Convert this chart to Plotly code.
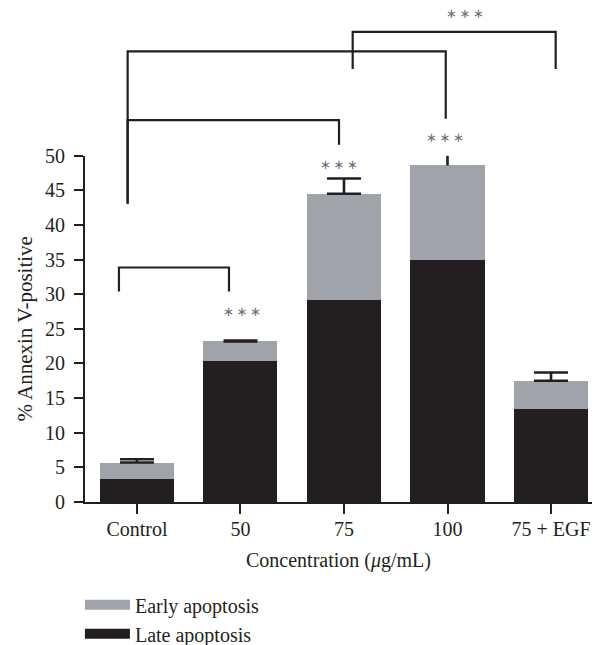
import plotly.graph_objects as go

# ---- data ----
categories = ["Control", "50", "75", "100", "75 + EGF"]
late_apoptosis = [3.3, 20.4, 29.2, 35.0, 13.4]
early_apoptosis = [2.4, 2.8, 15.3, 13.6, 4.1]
error_sd = [0.47, 0.1, 2.2, 1.45, 1.2]
cap_shown = [True, True, True, False, True]

# significance brackets: (x_left, x_right, y_top, y_bottom_left, y_bottom_right), in axis units
brackets = [
    (-0.174, 0.889, 33.86, 30.39, 30.39),
    (-0.09, 1.952, 55.13, 43.06, 51.59),
    (-0.09, 2.983, 65.07, 43.06, 55.35),
    (2.084, 4.045, 67.87, 62.53, 62.53),
]
star_x = [1.01, 1.95, 2.98, 3.17]
star_y = [27.5, 48.8, 52.6, 70.5]
star_text = "∗\u2009∗\u2009∗"

FONT = "Liberation Serif"
BLACK = "#231f20"
GREY = "#a0a3aa"
STAR = "#6d6e71"

x_pos = list(range(len(categories)))
totals = [a + b for a, b in zip(late_apoptosis, early_apoptosis)]

fig = go.Figure()
fig.add_trace(go.Bar(x=x_pos, y=late_apoptosis, width=0.715, marker=dict(color=BLACK, line=dict(width=0)),
                     name="Late apoptosis", showlegend=False, hoverinfo="skip"))
fig.add_trace(go.Bar(x=x_pos, y=early_apoptosis, width=0.715, marker=dict(color=GREY, line=dict(width=0)),
                     name="Early apoptosis", showlegend=False, hoverinfo="skip"))

for flag, cap in ((True, 17), (False, 0)):
    xs = [x for x, c in zip(x_pos, cap_shown) if c == flag]
    ys = [t for t, c in zip(totals, cap_shown) if c == flag]
    es = [e for e, c in zip(error_sd, cap_shown) if c == flag]
    fig.add_trace(go.Scatter(x=xs, y=ys, mode="markers", marker=dict(size=1, opacity=0),
                             error_y=dict(type="data", array=es, symmetric=False, arrayminus=[0] * len(es),
                                          color=BLACK, thickness=2.6, width=cap),
                             showlegend=False, hoverinfo="skip"))

for xl, xr, yt, ybl, ybr in brackets:
    fig.add_trace(go.Scatter(x=[xl, xl, xr, xr], y=[ybl, yt, yt, ybr], mode="lines",
                             line=dict(color=BLACK, width=2.2), yaxis="y2",
                             showlegend=False, hoverinfo="skip"))

for sx, sy in zip(star_x, star_y):
    fig.add_annotation(x=sx, y=sy, xref="x", yref="y2", text=star_text, showarrow=False,
                       font=dict(family="DejaVu Sans", size=13, color=STAR), xanchor="center", yanchor="middle")

# legend entries
fig.add_trace(go.Scatter(x=[None], y=[None], mode="lines", line=dict(color=GREY, width=10),
                         name="Early apoptosis", legendgroup="e"))
fig.add_trace(go.Scatter(x=[None], y=[None], mode="lines", line=dict(color=BLACK, width=10),
                         name="Late apoptosis", legendgroup="l"))

fig.update_layout(
    width=597, height=645,
    margin=dict(l=85, r=5, t=0, b=143, autoexpand=False),
    paper_bgcolor="white", plot_bgcolor="rgba(0,0,0,0)",
    barmode="stack",
    font=dict(family=FONT, color=BLACK, size=20),
    xaxis=dict(range=[-0.502, 4.396], tickvals=x_pos, ticktext=categories,
               ticks="outside", ticklen=10, tickwidth=2.2, tickcolor=BLACK,
               showline=True, linewidth=2.2, linecolor=BLACK, showgrid=False, zeroline=False,
               tickfont=dict(family=FONT, size=20, color=BLACK), ticklabelstandoff=-2,
               title=dict(text="Concentration (<i>μ</i>g/mL)", font=dict(family=FONT, size=20, color=BLACK), standoff=14),
               anchor="y", fixedrange=True),
    yaxis=dict(domain=[0, 0.6898], range=[0, 50], dtick=5, tick0=0,
               ticks="outside", ticklen=9, tickwidth=2.2, tickcolor=BLACK,
               showline=True, linewidth=2.2, linecolor=BLACK, showgrid=False, zeroline=False,
               tickfont=dict(family=FONT, size=20, color=BLACK), ticklabelstandoff=5,
               title=dict(text="% Annexin V-positive", font=dict(family=FONT, size=21, color=BLACK), standoff=7),
               fixedrange=True),
    yaxis2=dict(domain=[0, 1], range=[0, 72.48], visible=False, anchor="x", fixedrange=True),
    legend=dict(x=-0.01, y=-0.166, xanchor="left", yanchor="top", orientation="v",
                font=dict(family=FONT, size=20, color=BLACK), itemwidth=45,
                tracegroupgap=0, traceorder="grouped", bgcolor="rgba(0,0,0,0)"),
    showlegend=True,
)

fig.write_html("out.html")
